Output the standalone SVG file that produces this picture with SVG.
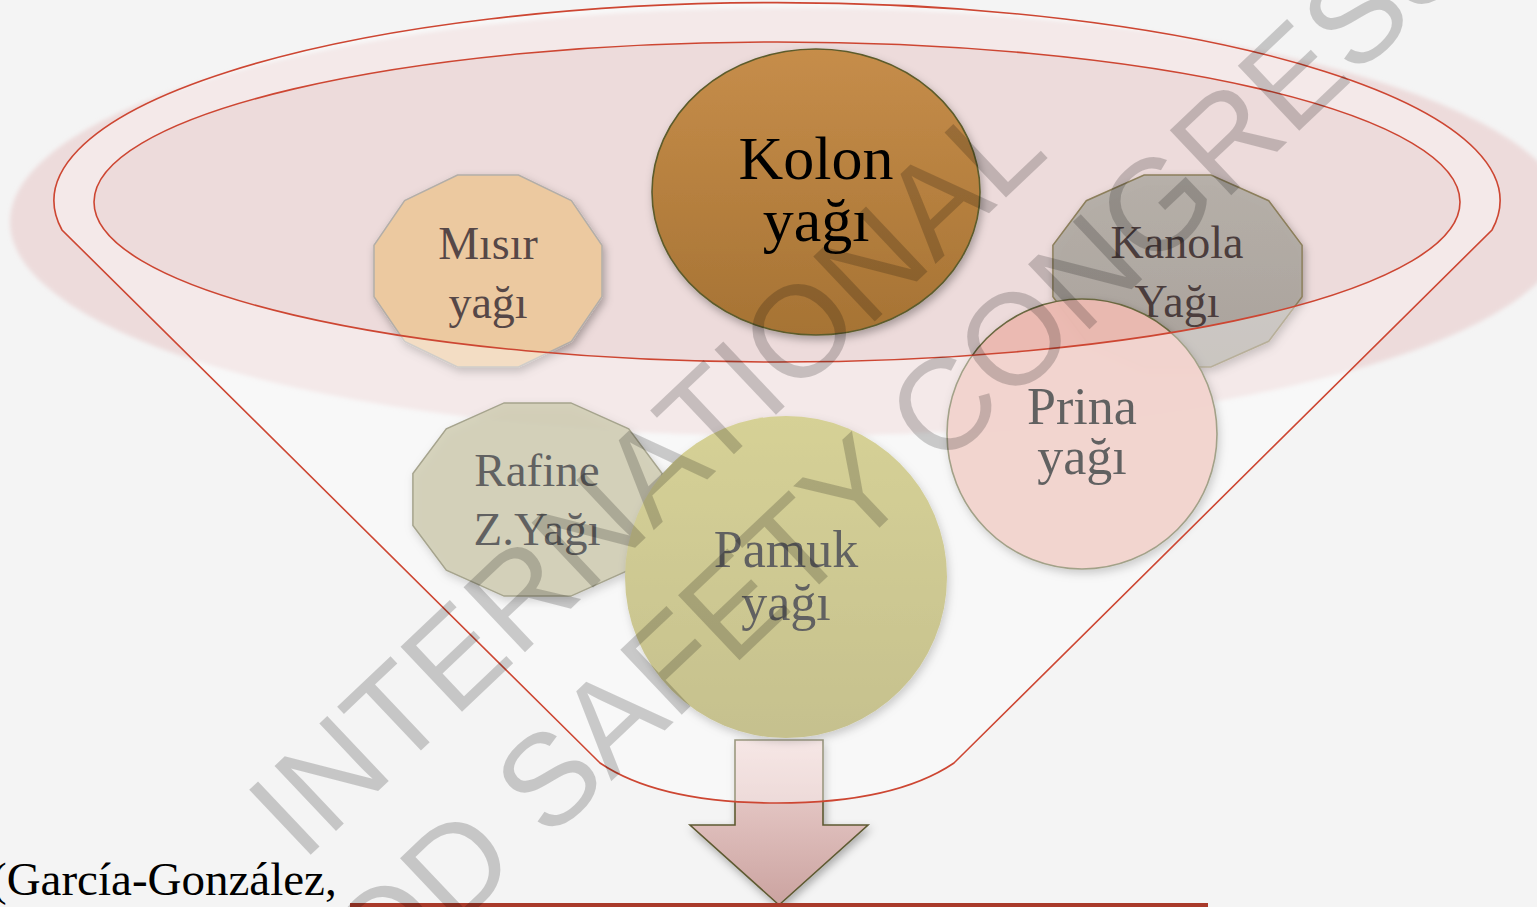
<svg xmlns="http://www.w3.org/2000/svg" width="1537" height="907" viewBox="0 0 1537 907">
<style>
.lbl{font-family:"Liberation Serif","Times New Roman",serif;text-anchor:middle}
.wm{font-family:"Liberation Sans",Arial,sans-serif;font-size:130px;fill:#000;fill-opacity:0.19}
.red{fill:none;stroke:#cd4632;stroke-width:1.6}
</style>
<defs>
<filter id="sh" x="-20%" y="-20%" width="140%" height="140%">
<feDropShadow dx="2" dy="4" stdDeviation="4" flood-color="#000" flood-opacity="0.3"/>
</filter>
<filter id="soft" x="-5%" y="-5%" width="110%" height="110%">
<feGaussianBlur stdDeviation="2"/>
</filter>
<linearGradient id="gKolon" x1="0" y1="0" x2="0" y2="1">
<stop offset="0" stop-color="#c68d4a"/>
<stop offset="1" stop-color="#a67334"/>
</linearGradient>
<linearGradient id="gPamuk" x1="0" y1="0" x2="0" y2="1">
<stop offset="0" stop-color="#bdb556"/>
<stop offset="1" stop-color="#a39b4a"/>
</linearGradient>
<linearGradient id="gKanola" x1="0" y1="0" x2="0" y2="1">
<stop offset="0" stop-color="#b5afa8"/>
<stop offset="1" stop-color="#a8a19a"/>
</linearGradient>
<linearGradient id="gArrow" x1="0" y1="0" x2="0" y2="1">
<stop offset="0" stop-color="#f1d8d6"/>
<stop offset="1" stop-color="#cba3a0"/>
</linearGradient>
</defs>

<rect width="1537" height="907" fill="#f4f4f4"/>
<ellipse cx="790" cy="222" rx="780" ry="214" fill="#e8c6c6" fill-opacity="0.55" filter="url(#soft)"/>

<g id="arrow">
<path d="M735,740 H823 V825 H868 L779,905 L690,825 H735 Z" fill="url(#gArrow)" stroke="#5e5a32" stroke-width="1.6" filter="url(#sh)"/>
</g>

<g id="node-misir">
<polygon points="602,296.7 571.4,341.3 518.5,367 457.5,367 404.6,341.3 374,296.7 374,245.3 404.6,200.7 457.5,175 518.5,175 571.4,200.7 602,245.3" fill="#ecc9a0" stroke="#b3aea8" stroke-width="1.5" filter="url(#sh)"/>
<text class="lbl" x="488" y="259" font-size="46" fill="#564747">Mısır</text>
<text class="lbl" x="488" y="318" font-size="46" fill="#564747">yağı</text>
</g>

<g id="node-kolon">
<ellipse cx="816" cy="192" rx="164" ry="143" fill="url(#gKolon)" stroke="#5c5b2c" stroke-width="1.6" filter="url(#sh)"/>
<text class="lbl" x="816" y="179" font-size="62" fill="#000">Kolon</text>
<text class="lbl" x="816" y="241" font-size="62" fill="#000">yağı</text>
</g>

<g id="node-kanola">
<polygon points="1302.1,296.7 1268.7,341.3 1210.9,367 1144.1,367 1086.3,341.3 1052.9,296.7 1052.9,245.3 1086.3,200.7 1144.1,175 1210.9,175 1268.7,200.7 1302.1,245.3" fill="url(#gKanola)" fill-opacity="0.95" stroke="#8c7f5c" stroke-width="1.5" filter="url(#sh)"/>
<text class="lbl" x="1177" y="258" font-size="46" fill="#4b3d3d">Kanola</text>
<text class="lbl" x="1177" y="317" font-size="46" fill="#4b3d3d">Yağı</text>
</g>

<g id="node-prina">
<circle cx="1082" cy="434" r="135" fill="#ebbab2" fill-opacity="0.97" stroke="#6a6840" stroke-width="1.6" filter="url(#sh)"/>
<text class="lbl" x="1082" y="424" font-size="52" fill="#000">Prina</text>
<text class="lbl" x="1082" y="474" font-size="52" fill="#000">yağı</text>
</g>

<g id="node-rafine">
<polygon points="662.1,525.4 628.7,570.2 570.9,596.1 504.1,596.1 446.3,570.2 412.9,525.4 412.9,473.6 446.3,428.8 504.1,402.9 570.9,402.9 628.7,428.8 662.1,473.6" fill="#b4af85" fill-opacity="0.85" stroke="#6f6c48" stroke-width="1.5" filter="url(#sh)"/>
<text class="lbl" x="537" y="486" font-size="47" fill="#000">Rafine</text>
<text class="lbl" x="537" y="545" font-size="47" fill="#000">Z.Yağı</text>
</g>

<g id="node-pamuk">
<circle cx="786" cy="577" r="161" fill="url(#gPamuk)" filter="url(#sh)"/>
<text class="lbl" x="786" y="567" font-size="52" fill="#000">Pamuk</text>
<text class="lbl" x="786" y="620" font-size="52" fill="#000">yağı</text>
</g>

<g id="funnel">
<path d="M62,230 A723,198 0 1 1 1492,230 L954,763 C914,790 854,803 777,803 C700,803 640,790 600,763 Z M94,202 A683,160 0 1 0 1460,202 A683,160 0 1 0 94,202 Z" fill="#fff" fill-opacity="0.38" fill-rule="evenodd"/>
<path class="red" d="M62,230 A723,198 0 1 1 1492,230 L954,763 C914,790 854,803 777,803 C700,803 640,790 600,763 Z"/>
<ellipse class="red" cx="777" cy="202" rx="683" ry="160"/>
</g>

<g id="citation">
<text x="-9" y="895" font-family="Liberation Serif,'Times New Roman',serif" font-size="47" fill="#000">(García-González,</text>
<rect x="350" y="903" width="858" height="4" fill="#a93a2a"/>
</g>

<g id="watermark">
<text class="wm" x="302" y="863" transform="rotate(-43.4 302 863)">INTERNATIONAL</text>
<text class="wm" x="249" y="1124" transform="rotate(-43.4 249 1124)">FOOD SAFETY CONGRESS</text>
</g>
</svg>
